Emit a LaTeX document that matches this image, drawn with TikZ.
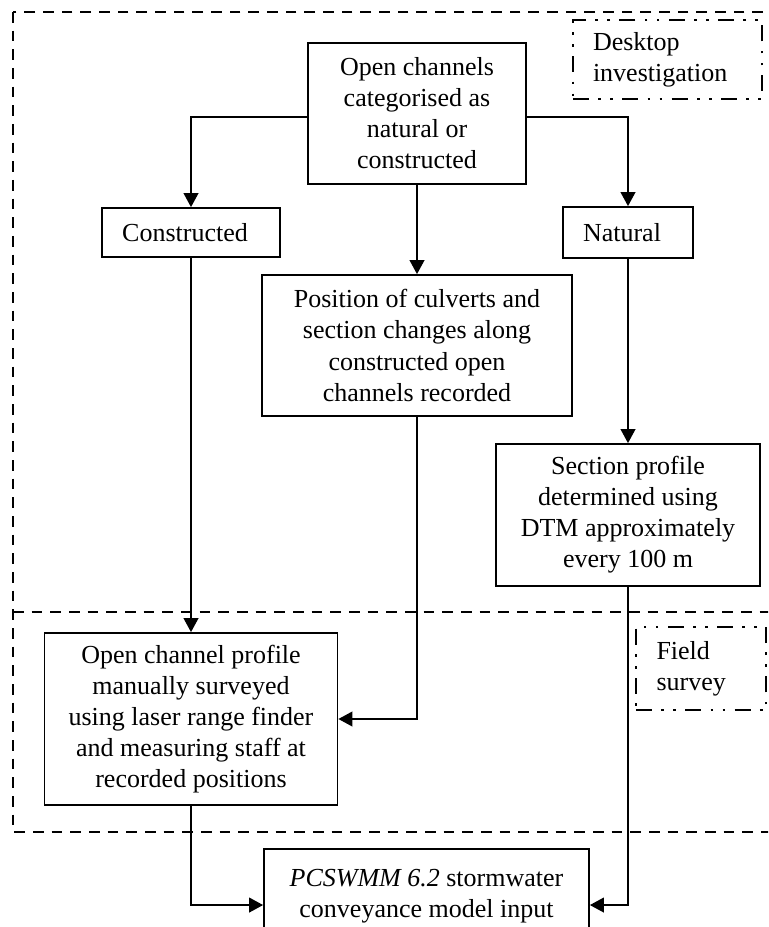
\documentclass[tikz,border=0pt]{standalone}
\usepackage{fontspec}
\setmainfont{Liberation Serif}
\usetikzlibrary{arrows.meta}
\begin{document}
\begin{tikzpicture}[x=0.75pt,y=-0.75pt,
  txt/.style={font=\fontsize{19.5}{23.3}\selectfont},
  wh/.style n args={2}{minimum width=#1*0.75pt,minimum height=#2*0.75pt},
  box/.style={txt, draw, line width=1.3pt, align=center, inner sep=0pt},
  arr/.style={line width=1.4pt, -{Triangle[length=10.5pt,width=11pt]}},
  region/.style={line width=1.8pt, dash pattern=on 8pt off 6pt},
  tag/.style={txt, draw, line width=1.7pt, align=left, inner ysep=0pt,
    dash pattern=on 12pt off 7pt on 2pt off 7pt on 2pt off 7pt}]
\useasboundingbox (0,0) rectangle (768,927);
\clip (0,0) rectangle (768,927);

% stage frames
\draw[region] (13,12) rectangle (800,832);
\draw[region] (13,612) -- (800,612);

% stage labels
\node[tag, wh={189}{79}, inner xsep=15pt, text width=149*0.75pt] (desk) at (667.5,59.5)
  {Desktop\\investigation};
\node[tag, wh={130}{83}, inner xsep=15.5pt, text width=89*0.75pt] (field) at (701,668.5)
  {Field\\survey};

% process boxes
\node[box, wh={218}{141}] (top) at (417,113.5)
  {Open channels\\categorised as\\natural or\\constructed};
\node[box, wh={178}{49}] (con) at (191,232.5) {\hspace*{-9pt}Constructed};
\node[box, wh={130}{51}] (nat) at (628,232.5) {\hspace*{-9pt}Natural};
\node[box, wh={310}{141}] (pos) at (417,345.5)
  {Position of culverts and\\section changes along\\constructed open\\channels recorded};
\node[box, wh={264}{142}] (sec) at (628,515)
  {Section profile\\determined using\\DTM approximately\\every 100 m};
\node[box, wh={293}{172}] (prof) at (191,719)
  {Open channel profile\\manually surveyed\\using laser range finder\\and measuring staff at\\recorded positions};
\node[box, wh={325}{95}] (pcs) at (426.5,896.5)
  {\textit{PCSWMM 6.2} stormwater\\conveyance model input};

% connectors
\draw[arr] ([yshift=-2.6pt]top.west) -| (con.north);
\draw[arr] ([yshift=-2.6pt]top.east) -| (nat.north);
\draw[arr] (top.south) -- (pos.north);
\draw[arr] (con.south) -- (prof.north);
\draw[arr] (nat.south) -- (sec.north);
\draw[arr] (pos.south) |- (prof.east);
\draw[arr] (prof.south) |- ([yshift=-6.4pt]pcs.west);
\draw[arr] (sec.south) |- ([yshift=-6.4pt]pcs.east);
\end{tikzpicture}
\end{document}
